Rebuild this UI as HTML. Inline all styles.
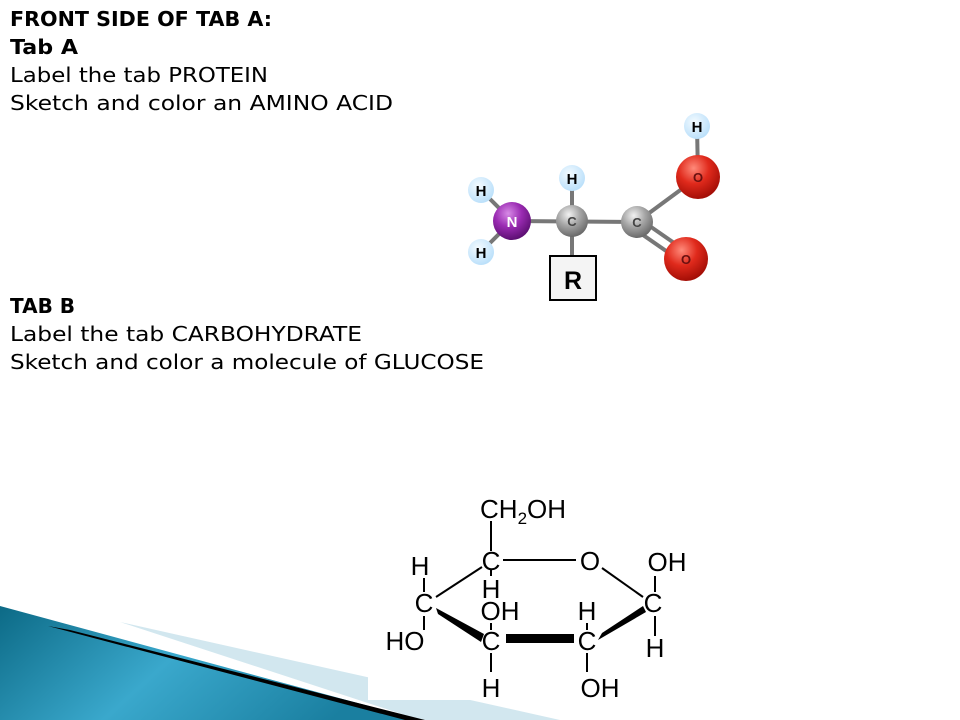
<!DOCTYPE html>
<html><head><meta charset="utf-8"><style>
html,body{margin:0;padding:0;background:#fff;width:960px;height:720px;overflow:hidden}
svg{display:block}
</style></head><body>
<svg width="960" height="720" viewBox="0 0 960 720" xmlns="http://www.w3.org/2000/svg">
<defs>
<linearGradient id="bl" x1="0" y1="0" x2="1" y2="0.3">
<stop offset="0" stop-color="#0c6a86"/><stop offset="0.5" stop-color="#3aa8cc"/><stop offset="1" stop-color="#1a7fa0"/>
</linearGradient>
<radialGradient id="gH" cx="0.4" cy="0.35" r="0.7"><stop offset="0" stop-color="#f4fbff"/><stop offset="1" stop-color="#b7defa"/></radialGradient>
<radialGradient id="gO" cx="0.4" cy="0.3" r="0.7"><stop offset="0" stop-color="#ff8a7a"/><stop offset="0.5" stop-color="#e02a1c"/><stop offset="1" stop-color="#a40e06"/></radialGradient>
<radialGradient id="gN" cx="0.4" cy="0.3" r="0.7"><stop offset="0" stop-color="#d78ae6"/><stop offset="0.5" stop-color="#9b2bb3"/><stop offset="1" stop-color="#5d0f73"/></radialGradient>
<radialGradient id="gC" cx="0.4" cy="0.3" r="0.7"><stop offset="0" stop-color="#f2f2f2"/><stop offset="0.5" stop-color="#a6a6a6"/><stop offset="1" stop-color="#6a6a6a"/></radialGradient>
</defs>

<!-- bottom-left decoration -->
<polygon points="120,622 560,720 420,720" fill="#d2e7ef"/>
<polygon points="0,606 420,720 0,720" fill="url(#bl)"/>
<polygon points="48,626 70,630 425,720 405,720" fill="#000"/>
<rect x="368" y="470" width="340" height="230" fill="#fff"/>

<!-- text -->
<g font-family="'DejaVu Sans','Liberation Sans',sans-serif" font-size="20" fill="#000">
<text x="10" y="26" font-weight="bold" textLength="262" lengthAdjust="spacingAndGlyphs">FRONT SIDE OF TAB A:</text>
<text x="10" y="54" font-weight="bold" textLength="68" lengthAdjust="spacingAndGlyphs">Tab A</text>
<text x="10" y="82" textLength="258" lengthAdjust="spacingAndGlyphs">Label the tab PROTEIN</text>
<text x="10" y="110" textLength="383" lengthAdjust="spacingAndGlyphs">Sketch and color an AMINO ACID</text>
<text x="10" y="313" font-weight="bold">TAB B</text>
<text x="10" y="341" textLength="352" lengthAdjust="spacingAndGlyphs">Label the tab CARBOHYDRATE</text>
<text x="10" y="369" textLength="474" lengthAdjust="spacingAndGlyphs">Sketch and color a molecule of GLUCOSE</text>
</g>

<!-- amino acid -->
<g stroke="#777" stroke-width="4" fill="none">
<line x1="481" y1="190" x2="512" y2="221"/>
<line x1="481" y1="252" x2="512" y2="221"/>
<line x1="512" y1="221" x2="637" y2="222"/>
<line x1="572" y1="178" x2="572" y2="258"/>
<line x1="637" y1="222" x2="698" y2="177"/>
<line x1="697" y1="126" x2="698" y2="177"/>
<line x1="633" y1="228" x2="682" y2="262"/>
<line x1="641" y1="220" x2="690" y2="254"/>
</g>
<rect x="550" y="256" width="46" height="44" fill="#f4f4f4" stroke="#000" stroke-width="2"/>
<text x="573" y="289" font-family="'Liberation Sans',sans-serif" font-weight="bold" font-size="25" text-anchor="middle">R</text>
<g font-family="'Liberation Sans',sans-serif" font-weight="bold" text-anchor="middle">
<circle cx="697" cy="126" r="13" fill="url(#gH)"/><text x="697" y="132" font-size="15">H</text>
<circle cx="572" cy="178" r="13" fill="url(#gH)"/><text x="572" y="184" font-size="15">H</text>
<circle cx="481" cy="190" r="13" fill="url(#gH)"/><text x="481" y="196" font-size="15">H</text>
<circle cx="481" cy="252" r="13" fill="url(#gH)"/><text x="481" y="258" font-size="15">H</text>
<circle cx="698" cy="177" r="22" fill="url(#gO)"/><text x="698" y="182" font-size="13" fill="#6a1010">O</text>
<circle cx="686" cy="259" r="22" fill="url(#gO)"/><text x="686" y="264" font-size="13" fill="#6a1010">O</text>
<circle cx="512" cy="221" r="19" fill="url(#gN)"/><text x="512" y="227" font-size="15" fill="#fff">N</text>
<circle cx="572" cy="221" r="16" fill="url(#gC)"/><text x="572" y="226" font-size="13" fill="#444">C</text>
<circle cx="637" cy="222" r="16" fill="url(#gC)"/><text x="637" y="227" font-size="13" fill="#444">C</text>
</g>

<!-- glucose -->
<g stroke="#000" stroke-width="2" fill="none">
<line x1="491" y1="521" x2="491" y2="551"/>
<line x1="503" y1="560" x2="576" y2="560"/>
<line x1="602" y1="568" x2="643" y2="597"/>
<line x1="482" y1="567" x2="436" y2="597"/>
<line x1="424" y1="578" x2="424" y2="592"/>
<line x1="424" y1="616" x2="424" y2="630"/>
<line x1="491" y1="569" x2="491" y2="576"/>
<line x1="491" y1="623" x2="491" y2="630"/>
<line x1="491" y1="653" x2="491" y2="672"/>
<line x1="587" y1="623" x2="587" y2="630"/>
<line x1="587" y1="653" x2="587" y2="672"/>
<line x1="655" y1="576" x2="655" y2="592"/>
<line x1="655" y1="616" x2="655" y2="636"/>
</g>
<polygon points="436,608 438,614 481,642 484,634" fill="#000"/>
<rect x="506" y="634" width="68" height="9" fill="#000"/>
<polygon points="598,640 602,633 643,606 646,612" fill="#000"/>
<g font-family="'Liberation Sans',sans-serif" font-size="26" fill="#000" text-anchor="middle">
<text x="480" y="518" text-anchor="start">CH<tspan font-size="17" dy="6">2</tspan><tspan dy="-6">OH</tspan></text>
<text x="491" y="570">C</text>
<text x="590" y="570">O</text>
<text x="667" y="571">OH</text>
<text x="420" y="575">H</text>
<text x="491" y="598">H</text>
<text x="424" y="612">C</text>
<text x="500" y="620">OH</text>
<text x="587" y="620">H</text>
<text x="653" y="612">C</text>
<text x="405" y="650">HO</text>
<text x="491" y="650">C</text>
<text x="587" y="650">C</text>
<text x="655" y="657">H</text>
<text x="491" y="697">H</text>
<text x="600" y="697">OH</text>
</g>
</svg>
</body></html>
